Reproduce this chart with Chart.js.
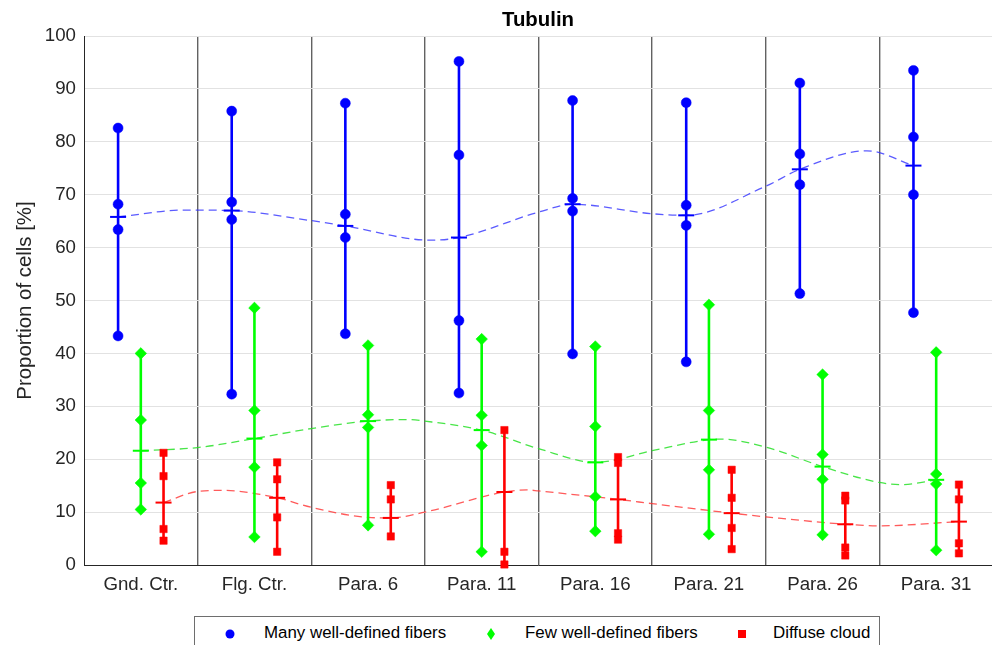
<!DOCTYPE html>
<html>
<head>
<meta charset="utf-8">
<script src="https://cdn.jsdelivr.net/npm/chart.js@4.4.1/dist/chart.umd.min.js"></script>
<style>
  html, body { margin: 0; padding: 0; background: #ffffff; overflow: hidden; }
  #wrap { position: relative; width: 992px; height: 645px; overflow: hidden; font-family: "Liberation Sans", Arial, Helvetica, sans-serif; }
  #chart { position: absolute; left: 0; top: 0; }
  #title { position: absolute; left: 438px; width: 200px; top: 7px; line-height: 24px; text-align: center; font-weight: bold; font-size: 20.4px; color: #000; }
  #legend { position: absolute; left: 194px; top: 616px; width: 686px; height: 50px; border: 1px solid #6e6e6e; background: #fff; box-sizing: border-box; }
  .lg { position: absolute; font-size: 16.9px; color: #000; line-height: 20px; top: 6px; white-space: nowrap; }
  .mk { position: absolute; }
</style>
</head>
<body>
<div id="wrap">
  <canvas id="chart" width="1003" height="645"></canvas>
  <div id="title">Tubulin</div>
  <div id="legend">
    <svg class="mk" style="left:30px;top:12px" width="10" height="10"><circle cx="5" cy="5" r="4.5" fill="#0000ff"/></svg>
    <span class="lg" style="left:69px">Many well-defined fibers</span>
    <svg class="mk" style="left:292px;top:11px" width="8" height="12"><polygon points="4,0 8,6 4,12 0,6" fill="#00ff00"/></svg>
    <span class="lg" style="left:330px">Few well-defined fibers</span>
    <svg class="mk" style="left:543px;top:13px" width="8" height="8"><rect width="8" height="8" fill="#ff0000"/></svg>
    <span class="lg" style="left:578px">Diffuse cloud</span>
  </div>
</div>
<script>
// ---- data ----
const categories = ['Gnd. Ctr.', 'Flg. Ctr.', 'Para. 6', 'Para. 11', 'Para. 16', 'Para. 21', 'Para. 26', 'Para. 31'];

const manyValues = [
  [82.6, 68.2, 63.4, 43.3],
  [85.8, 68.6, 65.3, 32.3],
  [87.3, 66.3, 61.9, 43.7],
  [95.2, 77.5, 46.2, 32.5],
  [87.8, 69.3, 66.9, 39.9],
  [87.4, 68.0, 64.2, 38.4],
  [91.1, 77.7, 71.9, 51.3],
  [93.5, 80.9, 70.0, 47.7]
];
const manyMeans = [65.8, 67.0, 64.1, 61.9, 68.2, 66.1, 74.8, 75.5];

const fewValues = [
  [40.0, 27.4, 15.5, 10.5],
  [48.6, 29.2, 18.5, 5.3],
  [41.5, 28.4, 26.0, 7.5],
  [42.7, 28.3, 22.6, 2.5],
  [41.3, 26.2, 12.9, 6.4],
  [49.2, 29.2, 18.0, 5.8],
  [36.0, 20.9, 16.2, 5.7],
  [40.2, 17.2, 15.3, 2.8]
];
const fewMeans = [21.6, 23.9, 27.2, 25.5, 19.4, 23.7, 18.6, 16.1];

const diffuseValues = [
  [21.2, 16.8, 6.8, 4.6],
  [19.4, 16.2, 9.0, 2.5],
  [15.1, 12.4, 5.4],
  [25.5, 2.5, 0.1],
  [20.4, 19.3, 6.0, 4.8],
  [18.0, 12.7, 7.0, 3.0],
  [13.1, 12.2, 3.3, 1.8],
  [15.2, 12.4, 4.1, 2.2]
];
const diffuseMeans = [11.8, 12.7, 8.9, 13.8, 12.4, 9.8, 7.7, 8.2];

// dashed trend curves (x in category units, 1 = first category)
const manyTrendX = [0.8, 1.38, 1.8, 2.5, 2.8, 3.55, 3.8, 4.5, 4.8, 5.5, 5.8, 6.5, 6.8, 7.39, 7.8];
const manyTrendY = [65.8, 67.1, 67.0, 65.1, 64.1, 61.4, 61.9, 66.7, 68.2, 66.4, 66.1, 71.6, 74.8, 78.3, 75.5];
const fewTrendX = [1, 1.5, 2, 2.5, 3, 3.35, 3.5, 4, 4.5, 5, 5.5, 6, 6.1, 6.5, 7, 7.5, 7.7, 8];
const fewTrendY = [21.6, 22.2, 23.9, 25.8, 27.2, 27.5, 27.2, 25.5, 22.0, 19.4, 21.6, 23.7, 23.8, 22.3, 18.6, 15.6, 15.2, 16.1];
const diffuseTrendX = [1.2, 1.5, 1.73, 2.2, 2.5, 3.0, 3.2, 3.5, 4.2, 4.4, 4.5, 5.2, 5.5, 6.2, 6.5, 7.2, 7.5, 8.2];
const diffuseTrendY = [11.8, 13.9, 14.1, 12.7, 10.9, 9.0, 8.9, 10.0, 13.8, 14.2, 14.0, 12.4, 11.6, 9.8, 9.1, 7.7, 7.4, 8.2];

const yTicks = { min: 0, max: 100, step: 10 };

// ---- build datasets ----
const FONT = '"Liberation Sans", Arial, Helvetica, sans-serif';
const series = [
  { name: 'Many well-defined fibers', vals: manyValues, means: manyMeans, tx: manyTrendX, ty: manyTrendY, off: -0.2, color: '#0000ff', dash: 'rgba(50,50,255,0.8)', style: 'circle', r: 5 },
  { name: 'Few well-defined fibers', vals: fewValues, means: fewMeans, tx: fewTrendX, ty: fewTrendY, off: 0, color: '#00ff00', dash: 'rgba(40,225,40,0.85)', style: 'rectRot', r: 5.8 },
  { name: 'Diffuse cloud', vals: diffuseValues, means: diffuseMeans, tx: diffuseTrendX, ty: diffuseTrendY, off: 0.2, color: '#ff0000', dash: 'rgba(255,50,50,0.8)', style: 'rect', r: 5.2 }
];

const datasets = [];
series.forEach(s => {
  datasets.push({
    type: 'line', label: s.name + ' trend',
    data: s.tx.map((x, i) => ({ x: x, y: s.ty[i] })),
    borderColor: s.dash, borderWidth: 1.3, borderDash: [8, 5],
    pointRadius: 0, cubicInterpolationMode: 'monotone', fill: false, order: 4, clip: false
  });
  const rng = [];
  s.vals.forEach((v, i) => {
    const x = i + 1 + s.off;
    rng.push({ x: x, y: Math.max(...v) }, { x: x, y: Math.min(...v) }, { x: x, y: null });
  });
  datasets.push({
    type: 'line', label: s.name + ' range', data: rng,
    borderColor: s.color, borderWidth: 2.6, pointRadius: 0, spanGaps: false, fill: false, order: 3, clip: false
  });
  const pts = [];
  s.vals.forEach((v, i) => v.forEach(y => pts.push({ x: i + 1 + s.off, y: y })));
  datasets.push({
    type: 'scatter', label: s.name, data: pts,
    pointStyle: s.style, pointRadius: s.r, pointBackgroundColor: s.color, pointBorderColor: s.color, pointBorderWidth: 0.5,
    order: 1, clip: false
  });
  datasets.push({
    type: 'scatter', label: s.name + ' mean',
    data: s.means.map((m, i) => ({ x: i + 1 + s.off, y: m })),
    pointStyle: 'line', pointRadius: 8, pointBorderColor: s.color, pointBorderWidth: 2,
    order: 2, clip: false
  });
});

new Chart(document.getElementById('chart'), {
  type: 'scatter',
  data: { datasets: datasets },
  options: {
    responsive: false,
    animation: false,
    devicePixelRatio: 1,
    layout: { padding: { top: 36, left: 0, right: 0, bottom: 0 } },
    plugins: { legend: { display: false }, title: { display: false }, tooltip: { enabled: false } },
    scales: {
      x: {
        type: 'linear', min: 0.5, max: categories.length + 0.5,
        afterBuildTicks: sc => {
          const t = [];
          for (let v = 0.5; v <= categories.length + 0.5 + 1e-9; v += 0.5) t.push({ value: v });
          sc.ticks = t;
        },
        afterFit: sc => { sc.height = 80; },
        ticks: {
          autoSkip: false, maxRotation: 0, padding: 9, color: '#262626',
          font: { family: FONT, size: 18.7 },
          callback: v => Number.isInteger(v) ? categories[v - 1] : ''
        },
        grid: {
          drawTicks: false,
          lineWidth: 1.4,
          color: c => (c.tick && !Number.isInteger(c.tick.value) && c.tick.value > 0.6 && c.tick.value < categories.length + 0.4) ? '#626262' : 'rgba(0,0,0,0)'
        },
        border: { color: '#262626', width: 1 }
      },
      y: {
        min: yTicks.min, max: yTicks.max,
        ticks: { stepSize: yTicks.step, padding: 8, color: '#262626', font: { family: FONT, size: 18.7 } },
        afterFit: sc => { sc.width = 84; },
        grid: { drawTicks: false, color: '#e2e2e2', lineWidth: 1 },
        border: { color: '#262626', width: 1 },
        title: { display: true, text: 'Proportion of cells [%]', color: '#262626', font: { family: FONT, size: 20.4 }, padding: { top: 13, bottom: 0 } }
      }
    }
  }
});
</script>
</body>
</html>
